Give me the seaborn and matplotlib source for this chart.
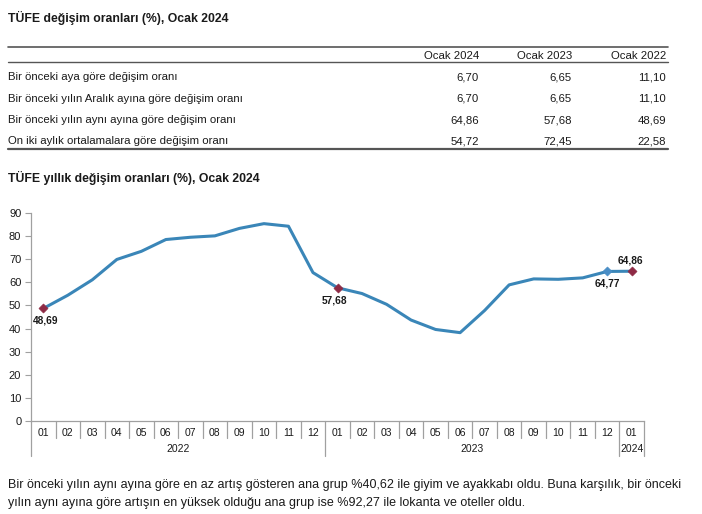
import matplotlib
matplotlib.use("Agg")
import matplotlib.pyplot as plt
import matplotlib.transforms as mtransforms
import seaborn as sns
import pandas as pd
import numpy as np

# ---------------- data ----------------
title_table = "TÜFE değişim oranları (%), Ocak 2024"
table_columns = ["Ocak 2024", "Ocak 2023", "Ocak 2022"]
table_rows = [
    "Bir önceki aya göre değişim oranı",
    "Bir önceki yılın Aralık ayına göre değişim oranı",
    "Bir önceki yılın aynı ayına göre değişim oranı",
    "On iki aylık ortalamalara göre değişim oranı",
]
table_values = [
    ["6,70", "6,65", "11,10"],
    ["6,70", "6,65", "11,10"],
    ["64,86", "57,68", "48,69"],
    ["54,72", "72,45", "22,58"],
]

title_chart = "TÜFE yıllık değişim oranları (%), Ocak 2024"
months = ["01", "02", "03", "04", "05", "06", "07", "08", "09", "10", "11", "12",
          "01", "02", "03", "04", "05", "06", "07", "08", "09", "10", "11", "12",
          "01"]
years = ["2022", "2023", "2024"]
year_counts = [12, 12, 1]
cpi_annual = [48.69, 54.44, 61.14, 69.97, 73.50, 78.62, 79.60, 80.21, 83.45, 85.51, 84.39, 64.27,
              57.68, 55.18, 50.51, 43.68, 39.59, 38.21, 47.83, 58.94, 61.53, 61.36, 61.98, 64.77,
              64.86]
highlight_red = [0, 12, 24]
highlight_blue = [23]
point_labels = {0: "48,69", 12: "57,68", 23: "64,77", 24: "64,86"}

footnote = ["Bir önceki yılın aynı ayına göre en az artış gösteren ana grup %40,62 ile giyim ve ayakkabı oldu. Buna karşılık, bir önceki",
            "yılın aynı ayına göre artışın en yüksek olduğu ana grup ise %92,27 ile lokanta ve oteller oldu."]

# ---------------- style ----------------
sns.set_theme(style="white")
plt.rcParams["font.family"] = ["Liberation Sans", "DejaVu Sans"]

W, H = 702, 514
fig = plt.figure(figsize=(W / 100, H / 100), dpi=100)
fig.patch.set_facecolor("white")

def fy(py):
    return 1 - py / H

def fx(px):
    return px / W

TXT = "#1a1a1a"
GRID = "#a0a0a0"
TFS = 8.2

# ---------------- table ----------------
fig.text(fx(8), fy(18), title_table, fontsize=8.8, fontweight="bold", color=TXT, va="center", ha="left")

fig.add_artist(plt.Line2D([fx(8), fx(668)], [fy(46.5), fy(46.5)], color="#555555", lw=1.2))
fig.add_artist(plt.Line2D([fx(8), fx(668)], [fy(61.7), fy(61.7)], color="#555555", lw=1.0))
fig.add_artist(plt.Line2D([fx(8), fx(668)], [fy(148.5), fy(148.5)], color="#555555", lw=1.6))

col_right = [479, 572, 666]
for cx, c in zip(col_right, table_columns):
    fig.text(fx(cx), fy(55.5), c, fontsize=TFS, color=TXT, ha="right", va="center")

row_y = [77, 98.5, 120, 141]
for ry, label, vals in zip(row_y, table_rows, table_values):
    fig.text(fx(8), fy(ry), label, fontsize=TFS, color=TXT, ha="left", va="center")
    for cx, v in zip(col_right, vals):
        fig.text(fx(cx), fy(ry), v, fontsize=TFS, color=TXT, ha="right", va="center")

fig.text(fx(8), fy(178), title_chart, fontsize=8.8, fontweight="bold", color=TXT, va="center", ha="left")

# ---------------- chart ----------------
ax_left, ax_right = 31, 644
ax_top, ax_bottom = 213.3, 420.7
ax = fig.add_axes([fx(ax_left), fy(ax_bottom), fx(ax_right - ax_left), (ax_bottom - ax_top) / H])

df = pd.DataFrame({"idx": np.arange(len(cpi_annual)), "value": cpi_annual})
sns.lineplot(data=df, x="idx", y="value", ax=ax, color="#3a86b8", linewidth=2.2)

red = df.iloc[highlight_red]
blue = df.iloc[highlight_blue]
sns.scatterplot(data=red, x="idx", y="value", ax=ax, marker="D", s=22, color="#8e2a45",
                edgecolor="#8e2a45", zorder=5)
sns.scatterplot(data=blue, x="idx", y="value", ax=ax, marker="D", s=22, color="#4a8ec6",
                edgecolor="#4a8ec6", zorder=5)

ax.set_xlim(-0.5, len(cpi_annual) - 0.5)
ax.set_ylim(0, 90)
ax.set_yticks(np.arange(0, 91, 10))
ax.set_yticklabels([str(v) for v in range(0, 91, 10)], fontsize=8, color=TXT)
ax.set_xticks([])
ax.set_xlabel("")
ax.set_ylabel("")
ax.tick_params(axis="y", which="both", length=4, width=0.8, color=GRID, direction="out", pad=3, left=True)
for s in ["top", "right"]:
    ax.spines[s].set_visible(False)
for s in ["left", "bottom"]:
    ax.spines[s].set_color(GRID)
    ax.spines[s].set_linewidth(0.9)

# point labels (offsets in points)
offsets = {0: (2, -9), 12: (-2, -9), 23: (0, -9), 24: (-1, 8)}
for i, lab in point_labels.items():
    dx, dy = offsets[i]
    ax.annotate(lab, (i, cpi_annual[i]), xytext=(dx, dy), textcoords="offset points",
                ha="center", va="center", fontsize=7.3, fontweight="bold", color=TXT)

# category axis: month labels, separators, year labels
trans = mtransforms.blended_transform_factory(ax.transData, ax.transAxes)
sh = -(438 - ax_bottom) / (ax_bottom - ax_top)
lo = -(456 - ax_bottom) / (ax_bottom - ax_top)
my = -(432.5 - ax_bottom) / (ax_bottom - ax_top)
yy = -(449 - ax_bottom) / (ax_bottom - ax_top)

for i, m in enumerate(months):
    ax.text(i, my, m, transform=trans, ha="center", va="center", fontsize=7.5, color=TXT)

boundaries = np.cumsum([0] + year_counts) - 0.5
for b in range(len(months) + 1):
    xb = b - 0.5
    bottom = lo if xb in boundaries else sh
    ax.plot([xb, xb], [0, bottom], transform=trans, color=GRID, lw=0.9, clip_on=False)

start = 0
for yname, cnt in zip(years, year_counts):
    center = start + (cnt - 1) / 2
    ax.text(center, yy, yname, transform=trans, ha="center", va="center", fontsize=7.5, color=TXT)
    start += cnt

# ---------------- footnote ----------------
fig.text(fx(8), fy(485), footnote[0], fontsize=9.0, color=TXT, ha="left", va="center")
fig.text(fx(8), fy(503), footnote[1], fontsize=9.0, color=TXT, ha="left", va="center")

fig.savefig("out.png", dpi=100, facecolor="white")
